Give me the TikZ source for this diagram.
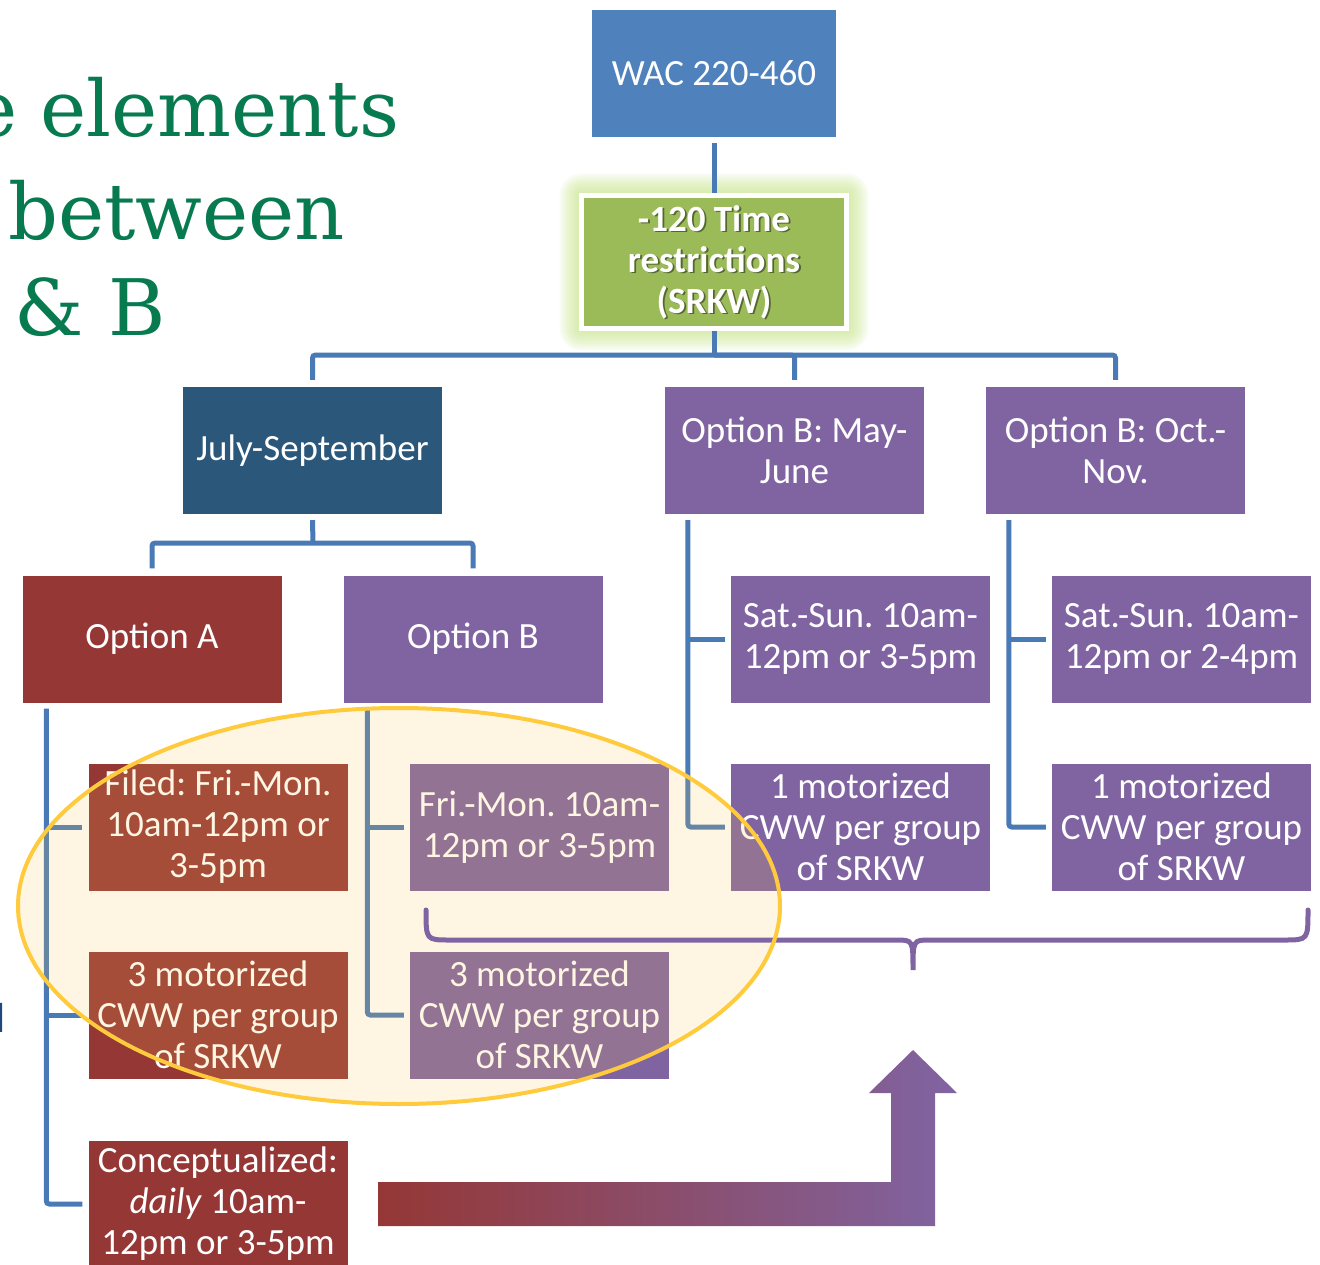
\documentclass[tikz,border=0pt]{standalone}
\usepackage{fontspec}
\setmainfont{Carlito}
\newfontfamily\slabfont{DejaVu Serif}
\usetikzlibrary{calc}
\frenchspacing

\definecolor{wacblue}{HTML}{4F81BD}
\definecolor{navy}{HTML}{2A577A}
\definecolor{leaf}{HTML}{9BBB59}
\definecolor{glowc}{HTML}{BFE07A}
\definecolor{plum}{HTML}{8064A2}
\definecolor{brick}{HTML}{953735}
\definecolor{linkblue}{HTML}{4A7AB5}
\definecolor{titlegreen}{HTML}{077A50}
\definecolor{inkblue}{HTML}{1F497D}
\definecolor{amber}{HTML}{F9C550}
\definecolor{amberline}{HTML}{FFCB3C}

\tikzset{
  box/.style={rectangle, inner sep=0pt, minimum width=259pt, minimum height=127pt,
    align=center, text=white, font=\fontsize{37}{41}\selectfont},
  bluebox/.style={box, fill=wacblue},
  navybox/.style={box, fill=navy},
  plumbox/.style={box, fill=plum},
  brickbox/.style={box, fill=brick},
  conn/.style={draw=linkblue, line width=5pt, rounded corners=3pt},
  bracestyle/.style={draw=plum, line width=5pt, line cap=round},
  titletext/.style={inner sep=0pt, text=titlegreen, font=\slabfont\fontsize{78}{94}\selectfont},
  ruletext/.style={inner sep=0pt, align=center, font=\bfseries\fontsize{37}{41}\selectfont},
}

\begin{document}
\begin{tikzpicture}[x=1pt, y=-1pt]
\useasboundingbox (0,0) rectangle (1320,1265);
\clip (0,0) rectangle (1320,1265);

% heading, running off the left edge
\node[titletext, anchor=base east] (t1a) at (18,137) {e};
\node[titletext, anchor=base west] (t1b) at (40,137) {elements};
\node[titletext, anchor=base west] (t2) at (8,240) {between};
\node[titletext, anchor=base west] (t3) at (14,335) {\& B};
\node[inner sep=0pt, anchor=base east, text=inkblue, font=\fontsize{42}{50}\selectfont] (dfrag) at (6,1032) {d};

% glow around the rule box
\foreach \r in {2,4,...,22}
  \fill[glowc, opacity=0.085, rounded corners=\r pt]
    ($(581.5,195.5)+(-\r,-\r)$) rectangle ($(846.5,328.5)+(\r,\r)$);

% boxes
\node[bluebox, minimum width=244pt] (wac) at (714,73.5) {WAC 220-460};
\node[rectangle, fill=leaf, draw=white, line width=5pt, minimum width=265pt, minimum height=133pt] (green) at (714,262) {};
\node[ruletext, text=black, opacity=0.45] (greenshade) at ($(green.center)+(1.8,1.8)$) {-120 Time\\restrictions\\(SRKW)};
\node[ruletext, text=white] (greenlabel) at (green.center) {-120 Time\\restrictions\\(SRKW)};

\node[navybox] (july) at (312.5,450.5) {July-September};
\node[plumbox] (may) at (794.5,450.5) {Option B: May-\\June};
\node[plumbox] (oct) at (1115.5,450.5) {Option B: Oct.-\\Nov.};

\node[brickbox] (optA) at (152,639) {Option A};
\node[plumbox] (optB) at (473,639) {Option B};
\node[plumbox] (sat1) at (860.5,639) {Sat.-Sun. 10am-\\12pm or 3-5pm};
\node[plumbox] (sat2) at (1181.5,639) {Sat.-Sun. 10am-\\12pm or 2-4pm};

\node[brickbox] (filed) at (218,827) {Filed: Fri.-Mon.\\10am-12pm or\\3-5pm};
\node[plumbox] (friB) at (539.5,827) {Fri.-Mon. 10am-\\12pm or 3-5pm};
\node[plumbox] (mot1) at (860.5,827) {1 motorized\\CWW per group\\of SRKW};
\node[plumbox] (mot2) at (1181.5,827) {1 motorized\\CWW per group\\of SRKW};

\node[brickbox] (threeA) at (218,1015) {3 motorized\\CWW per group\\of SRKW};
\node[plumbox] (threeB) at (539.5,1015) {3 motorized\\CWW per group\\of SRKW};

\node[brickbox] (concept) at (218,1204) {Conceptualized:\\\textit{daily} 10am-\\12pm or 3-5pm};

% connectors
\coordinate (busTop) at (714,355);
\coordinate (busJuly) at (313,543);
\draw[conn] ([yshift=-6pt]wac.south) -- (green.north);
\draw[conn] (green.south) -- (busTop);
\draw[conn] ([yshift=7pt]july.north) |- (busTop) -| ([yshift=7pt]oct.north);
\draw[conn] (busTop) -| ([yshift=7pt]may.north);
\draw[conn] ([yshift=-6pt]july.south) -- (busJuly);
\draw[conn] ([yshift=7pt]optA.north) |- (busJuly) -| ([yshift=7pt]optB.north);

\coordinate (spineA) at ([xshift=24pt,yshift=-6pt]optA.south west);
\coordinate (spineB) at ([xshift=24pt,yshift=-6pt]optB.south west);
\coordinate (spineM) at ([xshift=23pt,yshift=-6pt]may.south west);
\coordinate (spineO) at ([xshift=23pt,yshift=-6pt]oct.south west);

\draw[conn] (spineA) |- ([xshift=-6pt]concept.west);
\draw[conn] (spineA |- filed.west) -- ([xshift=-6pt]filed.west);
\draw[conn] (spineA |- threeA.west) -- ([xshift=-6pt]threeA.west);

\draw[conn] (spineB) |- ([xshift=-6pt]threeB.west);
\draw[conn] (spineB |- friB.west) -- ([xshift=-6pt]friB.west);

\draw[conn] (spineM) |- ([xshift=-6pt]mot1.west);
\draw[conn] (spineM |- sat1.west) -- ([xshift=-6pt]sat1.west);

\draw[conn] (spineO) |- ([xshift=-6pt]mot2.west);
\draw[conn] (spineO |- sat2.west) -- ([xshift=-6pt]sat2.west);

% highlighted region
\fill[amber, fill opacity=0.16] (399,906) ellipse [x radius=381, y radius=198];

% curly brace under the Option B time windows
\draw[bracestyle] (426,910) .. controls (426,940) .. (450,940) -- (896,940)
  .. controls (913,940) .. (913,970) .. controls (913,940) .. (930,940)
  -- (1284,940) .. controls (1308,940) .. (1308,910);

\draw[amberline, line width=4pt] (399,906) ellipse [x radius=381, y radius=198];

% bent arrow from the conceptualized window
\shade[left color=brick, right color=plum]
  (378,1182) -- (891,1182) -- (891,1093) -- (869,1093) -- (913,1050)
  -- (957,1093) -- (935,1093) -- (935,1226) -- (378,1226) -- cycle;
\end{tikzpicture}
\end{document}
